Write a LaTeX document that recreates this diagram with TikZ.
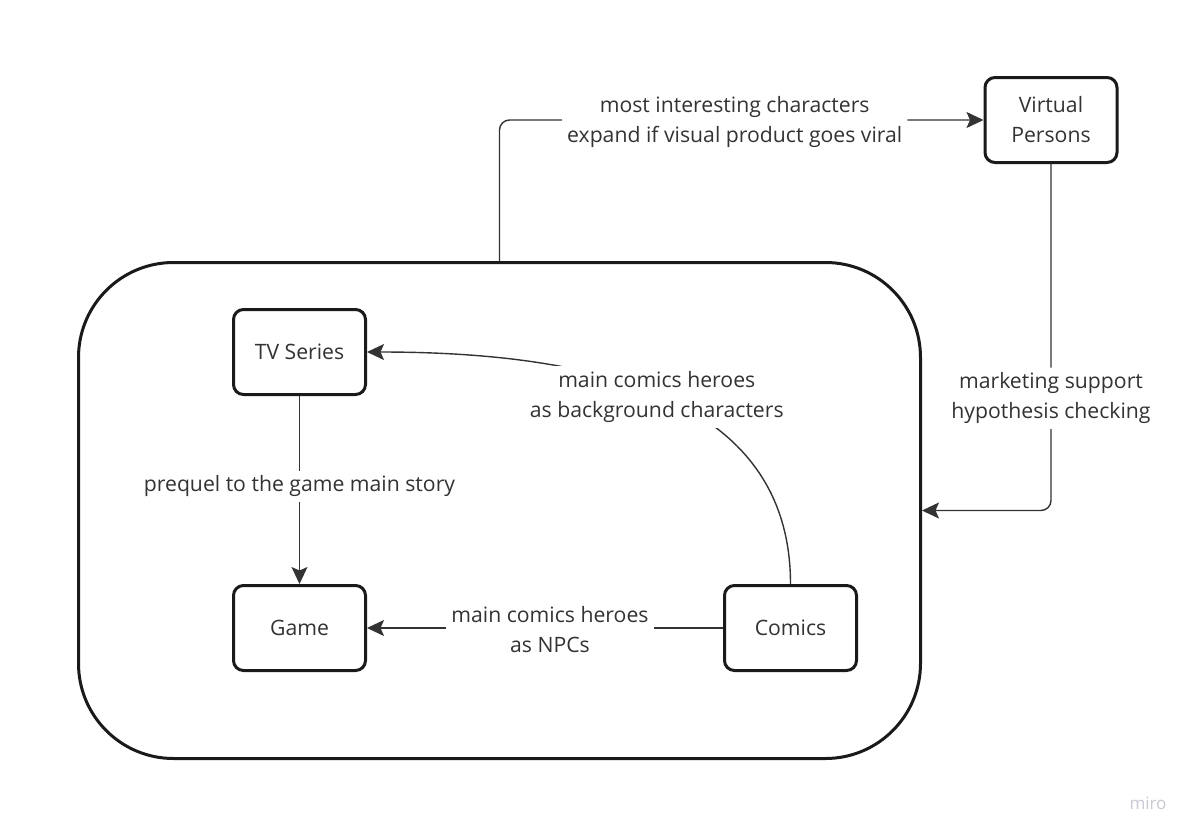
\documentclass[tikz,border=0pt]{standalone}
\usepackage{fontspec}
\setmainfont{Open Sans}
\usetikzlibrary{arrows.meta}
\definecolor{txt}{HTML}{333333}
\definecolor{brd}{HTML}{1A1A1A}
\definecolor{wm}{HTML}{C9C9D6}
\tikzset{
  box/.style={draw=brd, line width=3pt, rounded corners=10pt, fill=white,
    minimum width=132pt, minimum height=85pt, inner sep=0pt, align=center,
    text=txt, font=\fontsize{21.2}{30}\selectfont},
  conn/.style={draw=txt, line width=1.4pt,
    -{Stealth[length=17pt, width=16pt, inset=3.5pt]}},
  lbl/.style={fill=white, text=txt, align=center, inner sep=5pt, yshift=-2pt,
    font=\fontsize{21.2}{30}\selectfont},
}
\begin{document}
\begin{tikzpicture}[x=1pt, y=-1pt]
\useasboundingbox (0,0) rectangle (1195,836);
\fill[white] (0,0) rectangle (1195,836);
\node[draw=brd, line width=3pt, rounded corners=95pt, minimum width=842pt,
  minimum height=496pt, inner sep=0pt] (frame) at (499.5,510.5) {};
\node[box] (tv) at (299.5,352) {TV Series};
\node[box] (game) at (299.5,628) {Game};
\node[box] (comics) at (790.5,628) {Comics};
\node[box] (vp) at (1051,120) {Virtual\\Persons};
\draw[conn] (tv) -- node[lbl, pos=0.47] {prequel to the game main story} (game);
\draw[conn] (comics) -- node[lbl, pos=0.486] {main comics heroes\\as NPCs} (game);
\draw[conn] (comics.north) .. controls +(0,-184) and +(233,0) .. node[lbl, pos=0.52] {main comics heroes\\as background characters} (tv.east);
\draw[conn, rounded corners=10pt] (frame.north) |- node[lbl, pos=0.743] {most interesting characters\\expand if visual product goes viral} (vp.west);
\draw[conn, rounded corners=10pt] (vp.south) |- node[lbl, pos=0.335] {marketing support\\hypothesis checking} (frame.east);
\node[text=wm, font=\fontsize{17}{20}\selectfont] (miro) at (1148,803) {miro};
\end{tikzpicture}
\end{document}
